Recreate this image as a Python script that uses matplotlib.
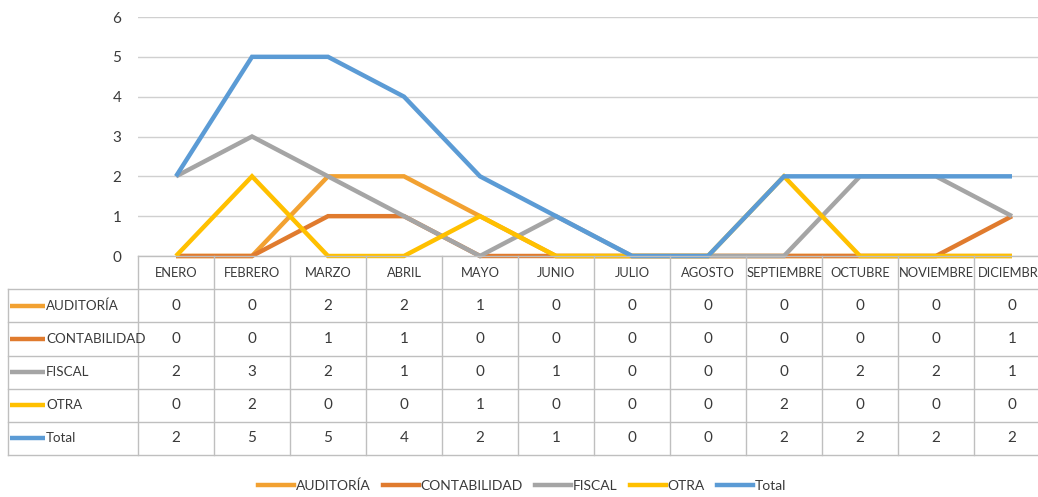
import matplotlib
matplotlib.use("Agg")
import matplotlib.pyplot as plt
from matplotlib.lines import Line2D
import numpy as np

months = ["ENERO", "FEBRERO", "MARZO", "ABRIL", "MAYO", "JUNIO", "JULIO",
          "AGOSTO", "SEPTIEMBRE", "OCTUBRE", "NOVIEMBRE", "DICIEMBRE"]
series_names = ["AUDITORÍA", "CONTABILIDAD", "FISCAL", "OTRA", "Total"]
auditoria    = [0, 0, 2, 2, 1, 0, 0, 0, 0, 0, 0, 0]
contabilidad = [0, 0, 1, 1, 0, 0, 0, 0, 0, 0, 0, 1]
fiscal       = [2, 3, 2, 1, 0, 1, 0, 0, 0, 2, 2, 1]
otra         = [0, 2, 0, 0, 1, 0, 0, 0, 2, 0, 0, 0]
total        = [2, 5, 5, 4, 2, 1, 0, 0, 2, 2, 2, 2]
yticks = [0, 1, 2, 3, 4, 5, 6]

values = [auditoria, contabilidad, fiscal, otra, total]
colors = ["#F2A131", "#E07B2E", "#A5A5A5", "#FFC000", "#5B9BD5"]

FONT = ["Lato", "DejaVu Sans"]
plt.rcParams["font.family"] = FONT
txtc = "#3A3A3A"
gridc = "#D0D0D0"

W, H = 1038, 497
fig = plt.figure(figsize=(W / 100, H / 100), dpi=100)

def px_rect(x0, y0, x1, y1):
    return [x0 / W, 1 - y1 / H, (x1 - x0) / W, (y1 - y0) / H]

colw = 76
x_left = 138
x_right = x_left + 12 * colw
ax = fig.add_axes(px_rect(x_left, 17, x_right, 256))
ax.set_xlim(-0.5, 11.5)
ax.set_ylim(0, 6)
for s in ax.spines.values():
    s.set_visible(False)
ax.set_yticks(yticks)
ax.set_yticklabels([str(t) for t in yticks], fontsize=11, color=txtc)
ax.tick_params(axis="y", length=0, pad=12)
ax.set_xticks([])
ax.grid(axis="y", color=gridc, lw=1)
ax.set_axisbelow(True)

x = np.arange(len(months))
for name, vals, c in zip(series_names, values, colors):
    ax.plot(x, vals, color=c, lw=3.2, label=name, solid_capstyle="butt",
            solid_joinstyle="miter", clip_on=False)

# Data table
t_left = 8
axt = fig.add_axes(px_rect(t_left, 256, x_right, 455))
lab_w = (x_left - t_left) / colw
xl = -0.5 - lab_w
axt.set_xlim(xl, 11.5)
axt.set_ylim(6, 0)
axt.axis("off")
lc = "#BFBFBF"
for i in range(13):
    axt.plot([i - 0.5, i - 0.5], [0, 6], color=lc, lw=1, clip_on=False)
axt.plot([xl, xl], [1, 6], color=lc, lw=1, clip_on=False)
axt.plot([-0.5, 11.5], [0, 0], color=lc, lw=1, clip_on=False)
for r in range(1, 7):
    axt.plot([xl, 11.5], [r, r], color=lc, lw=1, clip_on=False)

def pxu(px):
    return (px - x_left) / colw - 0.5

for i, m in enumerate(months):
    axt.text(i, 0.52, m, ha="center", va="center", fontsize=9.3, color=txtc,
             clip_on=False)
for r, (name, vals, c) in enumerate(zip(series_names, values, colors)):
    yy = r + 1.5
    axt.plot([pxu(10), pxu(45)], [yy, yy], color=c, lw=3.2, solid_capstyle="butt")
    axt.text(pxu(46), yy, name, ha="left", va="center", fontsize=9.6, color=txtc)
    for i, v in enumerate(vals):
        axt.text(i, yy, str(v), ha="center", va="center", fontsize=11, color=txtc)

handles = [Line2D([0], [0], color=c, lw=3.2) for c in colors]
fig.legend(handles, series_names, loc="center", bbox_to_anchor=(522 / W, 1 - 486 / H),
           ncol=5, frameon=False, fontsize=10, handlelength=2.6, handletextpad=0.1,
           columnspacing=0.9, labelcolor=txtc)

fig.savefig("out.png", dpi=100)
